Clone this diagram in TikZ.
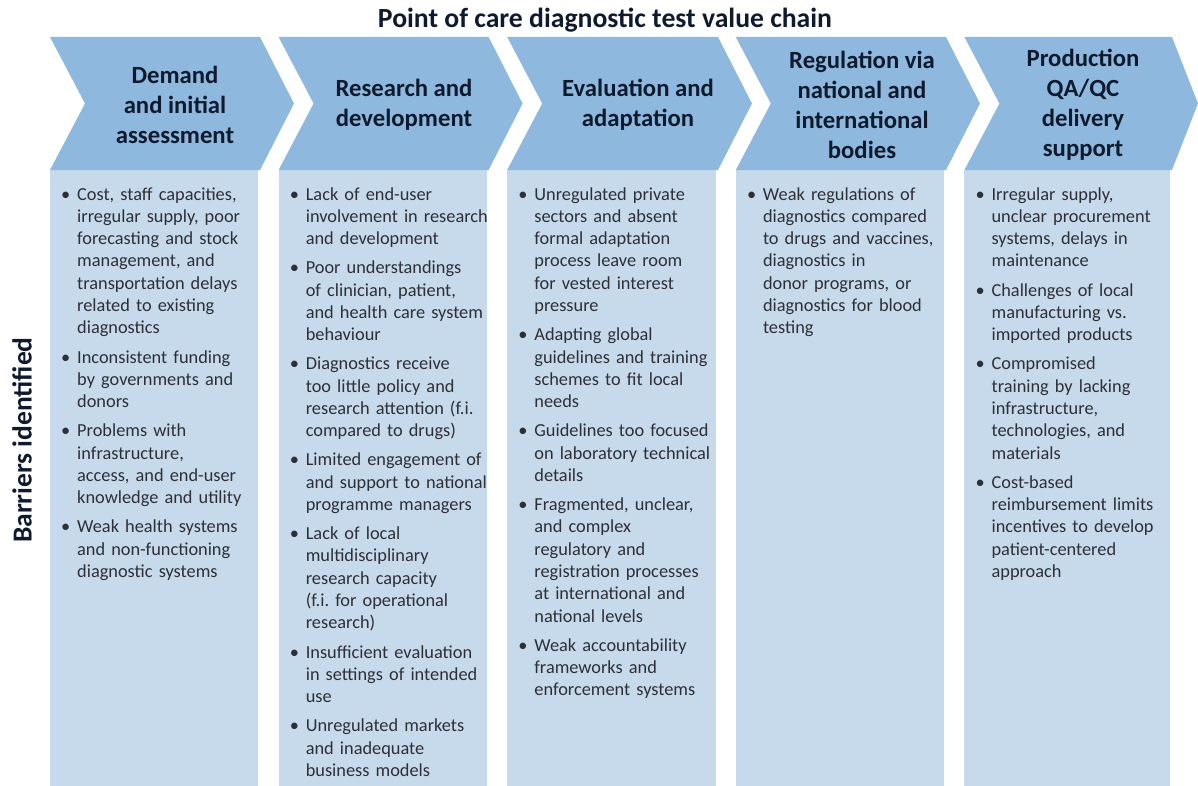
\documentclass[tikz,border=0pt]{standalone}
\usepackage{fontspec}
\setmainfont{Carlito}
\frenchspacing
\definecolor{chev}{RGB}{142,184,221}
\definecolor{boxc}{RGB}{199,218,235}
\definecolor{headc}{RGB}{16,26,46}
\definecolor{bodyc}{RGB}{45,47,55}
\newcommand\nl{\hfil\break}
\newcommand\bitem[1]{\par\hangindent=16bp\hangafter=1\noindent\makebox[16bp][l]{\textbullet}#1\par}
\newcommand\igap{\vspace{6.8bp}}
\tikzset{
  chevshape/.style={fill=chev},
  boxshape/.style={fill=boxc},
  head/.style={align=center, text=headc, inner sep=0pt, font=\fontsize{24.8}{30}\selectfont\bfseries},
  body/.style={anchor=north west, text width=200bp, text=bodyc, inner sep=0pt, font=\fontsize{18.4}{22.4}\selectfont\frenchspacing},
}
\begin{document}
\begin{tikzpicture}[x=1bp,y=-1bp]
\useasboundingbox (0,0) rectangle (1198,786);
% columns
\foreach \L/\R/\T in {50/260/294, 278.6/488.6/522.6, 507.2/718/752, 735.8/946/980, 964.4/1172/1198}{
  \fill[boxshape] (\L,170) rectangle (\R-2,786);
  \fill[chevshape] (\L,37) -- (\R,37) -- (\T,103.5) -- (\R,170) -- (\L,170) -- (\L+35,103.5) -- cycle;
}
\node[text=headc, font=\fontsize{27.8}{30}\selectfont\bfseries] (title) at (605,20) {Point of care diagnostic test value chain};
\node[rotate=90, text=headc, font=\fontsize{27.6}{30}\selectfont\bfseries] (barriers) at (22,440) {Barriers identified};

\node[head] (h1) at (175,105) {Demand\\and initial\\assessment};
\node[head] (h2) at (404,105) {Research and\\development};
\node[head] (h3) at (638,105) {Evaluation and\\adaptation};
\node[head] (h4) at (862,105) {Regulation via\\national and\\international\\bodies};
\node[head] (h5) at (1083,105) {Production\\QA/QC\\delivery\\support};

\node[body] (b1) at (61,177.5) {%
\bitem{Cost, staff capacities,\nl irregular supply, poor\nl forecasting and stock\nl management, and\nl transportation delays\nl related to existing\nl diagnostics}\igap
\bitem{Inconsistent funding\nl by governments and\nl donors}\igap
\bitem{Problems with\nl infrastructure,\nl access, and end-user\nl knowledge and utility}\igap
\bitem{Weak health systems\nl and non-functioning\nl diagnostic systems}};

\node[body] (b2) at (289.6,177.5) {%
\bitem{Lack of end-user\nl involvement in research\nl and development}\igap
\bitem{Poor understandings\nl of clinician, patient,\nl and health care system\nl behaviour}\igap
\bitem{Diagnostics receive\nl too little policy and\nl research attention (f.i.\nl compared to drugs)}\igap
\bitem{Limited engagement of\nl and support to national\nl programme managers}\igap
\bitem{Lack of local\nl multidisciplinary\nl research capacity\nl (f.i. for operational\nl research)}\igap
\bitem{Insufficient evaluation\nl in settings of intended\nl use}\igap
\bitem{Unregulated markets\nl and inadequate\nl business models}};

\node[body] (b3) at (518.2,177.5) {%
\bitem{Unregulated private\nl sectors and absent\nl formal adaptation\nl process leave room\nl for vested interest\nl pressure}\igap
\bitem{Adapting global\nl guidelines and training\nl schemes to fit local\nl needs}\igap
\bitem{Guidelines too focused\nl on laboratory technical\nl details}\igap
\bitem{Fragmented, unclear,\nl and complex\nl regulatory and\nl registration processes\nl at international and\nl national levels}\igap
\bitem{Weak accountability\nl frameworks and\nl enforcement systems}};

\node[body] (b4) at (746.8,177.5) {%
\bitem{Weak regulations of\nl diagnostics compared\nl to drugs and vaccines,\nl diagnostics in\nl donor programs, or\nl diagnostics for blood\nl testing}};

\node[body] (b5) at (975.4,177.5) {%
\bitem{Irregular supply,\nl unclear procurement\nl systems, delays in\nl maintenance}\igap
\bitem{Challenges of local\nl manufacturing vs.\nl imported products}\igap
\bitem{Compromised\nl training by lacking\nl infrastructure,\nl technologies, and\nl materials}\igap
\bitem{Cost-based\nl reimbursement limits\nl incentives to develop\nl patient-centered\nl approach}};
\end{tikzpicture}
\end{document}
